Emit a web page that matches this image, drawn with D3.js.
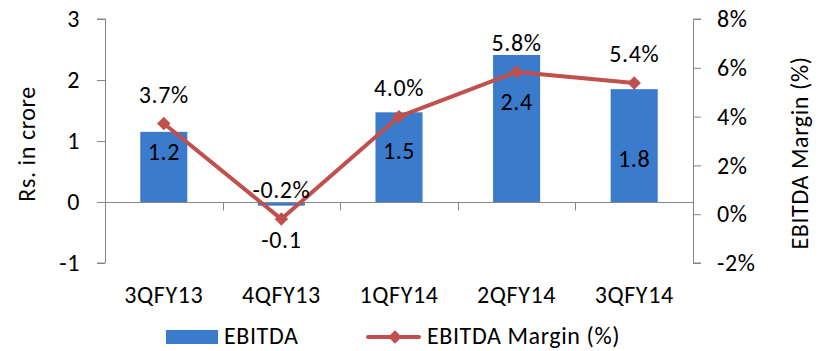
<!DOCTYPE html>
<html>
<head>
<meta charset="utf-8">
<script src="https://cdnjs.cloudflare.com/ajax/libs/d3/7.8.5/d3.min.js"></script>
<style>
  body { margin:0; background:#fff; }
  text { font-family: Carlito, Calibri, Lato, sans-serif; fill:#000; letter-spacing:0.6px; }
</style>
</head>
<body>
<div id="chart"></div>
<script>
var quarters = ["3QFY13","4QFY13","1QFY14","2QFY14","3QFY14"];
var ebitda = [1.15, -0.06, 1.47, 2.41, 1.85];
var ebitdaLabels = ["1.2","-0.1","1.5","2.4","1.8"];
var margin = [3.72, -0.2, 4.0, 5.83, 5.38];
var marginLabels = ["3.7%","-0.2%","4.0%","5.8%","5.4%"];
var leftTicks = [-1, 0, 1, 2, 3];
var rightTicks = [-2, 0, 2, 4, 6, 8];

// label nudges (px below bar top) so they clear the line
var barLabelDy = [20, 38, 38, 47, 69];

var W = 823, H = 351;
var plot = {left:105, right:693, top:19, bottom:263};
var fs = "24px";

var svg = d3.select("#chart").append("svg")
  .attr("width", W)
  .attr("height", H);

var x = d3.scaleBand()
  .domain(quarters)
  .range([plot.left, plot.right])
  .paddingInner(0.6)
  .paddingOuter(0.3);

var yL = d3.scaleLinear().domain([-1, 3]).range([plot.bottom, plot.top]);
var yR = d3.scaleLinear().domain([-2, 8]).range([plot.bottom, plot.top]);

var axisColor = "#868686";
var band = (plot.right - plot.left) / quarters.length;

// left axis
var leftAxis = svg.append("g")
  .attr("transform", "translate(" + plot.left + ",0)")
  .call(d3.axisLeft(yL).tickValues(leftTicks).tickSize(8).tickPadding(17).tickFormat(function(d){ return String(d); }));
leftAxis.select(".domain").attr("stroke", axisColor).attr("d", "M-8," + plot.top + "H0.5V" + plot.bottom + "H-8");
leftAxis.selectAll(".tick line").attr("stroke", axisColor);
leftAxis.selectAll(".tick text").style("font-size", fs);

// right axis
var rightAxis = svg.append("g")
  .attr("transform", "translate(" + plot.right + ",0)")
  .call(d3.axisRight(yR).tickValues(rightTicks).tickSize(8).tickPadding(16).tickFormat(function(d){ return d + "%"; }));
rightAxis.select(".domain").attr("stroke", axisColor).attr("d", "M8," + plot.top + "H0.5V" + plot.bottom + "H8");
rightAxis.selectAll(".tick line").attr("stroke", axisColor);
rightAxis.selectAll(".tick text").style("font-size", fs);

// bars
svg.selectAll(".bar")
  .data(ebitda)
  .enter().append("rect")
  .attr("class", "bar")
  .attr("x", function(d,i){ return x(quarters[i]); })
  .attr("width", x.bandwidth())
  .attr("y", function(d){ return Math.min(yL(d), yL(0)); })
  .attr("height", function(d){ return Math.abs(yL(d) - yL(0)); })
  .attr("fill", "#3A7BCC");

// x axis at zero
var zeroY = Math.round(yL(0)) + 0.5;
svg.append("line")
  .attr("x1", plot.left).attr("x2", plot.right)
  .attr("y1", zeroY).attr("y2", zeroY)
  .attr("stroke", axisColor);
svg.selectAll(".xtick")
  .data(d3.range(1, quarters.length))
  .enter().append("line")
  .attr("x1", function(i){ return Math.round(plot.left + band * i) + 0.5; })
  .attr("x2", function(i){ return Math.round(plot.left + band * i) + 0.5; })
  .attr("y1", zeroY).attr("y2", zeroY + 8)
  .attr("stroke", axisColor);

// category labels
svg.selectAll(".xlab")
  .data(quarters)
  .enter().append("text")
  .attr("x", function(d){ return x(d) + x.bandwidth() / 2; })
  .attr("y", 303)
  .attr("text-anchor", "middle")
  .style("font-size", fs)
  .text(function(d){ return d; });

// margin line
var line = d3.line()
  .x(function(d,i){ return x(quarters[i]) + x.bandwidth() / 2; })
  .y(function(d){ return yR(d); });

svg.append("path")
  .datum(margin)
  .attr("d", line)
  .attr("fill", "none")
  .attr("stroke", "#C0504D")
  .attr("stroke-width", 4)
  .attr("stroke-linejoin", "round");

svg.selectAll(".marker")
  .data(margin)
  .enter().append("path")
  .attr("class", "marker")
  .attr("d", d3.symbol().type(d3.symbolDiamond2).size(115))
  .attr("transform", function(d,i){ return "translate(" + (x(quarters[i]) + x.bandwidth() / 2) + "," + yR(d) + ")"; })
  .attr("fill", "#C0504D");

// bar labels
svg.selectAll(".blab")
  .data(ebitda)
  .enter().append("text")
  .attr("x", function(d,i){ return x(quarters[i]) + x.bandwidth() / 2; })
  .attr("y", function(d,i){ return d < 0 ? yL(0) + 38 : yL(d) + barLabelDy[i]; })
  .attr("dy", "0.35em")
  .attr("text-anchor", "middle")
  .style("font-size", fs)
  .text(function(d,i){ return ebitdaLabels[i]; });

// margin labels
svg.selectAll(".mlab")
  .data(margin)
  .enter().append("text")
  .attr("x", function(d,i){ return x(quarters[i]) + x.bandwidth() / 2; })
  .attr("y", function(d){ return yR(d) - 29; })
  .attr("dy", "0.35em")
  .attr("text-anchor", "middle")
  .style("font-size", fs)
  .text(function(d,i){ return marginLabels[i]; });

// axis titles
svg.append("text")
  .attr("transform", "translate(35,144) rotate(-90)")
  .attr("text-anchor", "middle")
  .style("font-size", fs)
  .text("Rs. in crore");

svg.append("text")
  .attr("transform", "translate(808,153) rotate(-90)")
  .attr("text-anchor", "middle")
  .style("font-size", fs)
  .text("EBITDA Margin (%)");

// legend
var legend = svg.append("g");
legend.append("rect")
  .attr("x", 166).attr("y", 330)
  .attr("width", 52).attr("height", 14)
  .attr("fill", "#3A7BCC");
legend.append("text")
  .attr("x", 224).attr("y", 344)
  .style("font-size", fs)
  .text("EBITDA");
legend.append("line")
  .attr("x1", 368).attr("x2", 419)
  .attr("y1", 337).attr("y2", 337)
  .attr("stroke", "#C0504D")
  .attr("stroke-width", 4)
  .attr("stroke-linecap", "round");
legend.append("path")
  .attr("d", d3.symbol().type(d3.symbolDiamond2).size(115))
  .attr("transform", "translate(395,337)")
  .attr("fill", "#C0504D");
legend.append("text")
  .attr("x", 427).attr("y", 344)
  .style("font-size", fs)
  .text("EBITDA Margin (%)");
</script>
</body>
</html>
